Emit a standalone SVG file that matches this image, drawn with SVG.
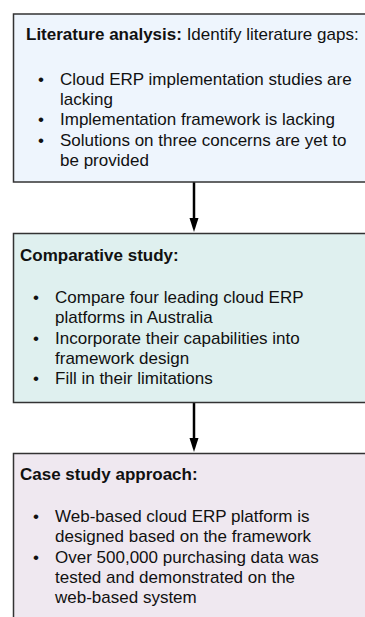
<svg xmlns="http://www.w3.org/2000/svg" width="365" height="617" viewBox="0 0 365 617">
<defs>
<style>
.box{stroke:#333;stroke-width:1.5}
.t{font-family:"Liberation Sans",Arial,sans-serif;font-size:17px;fill:#111}
.h{font-family:"Liberation Sans",Arial,sans-serif;font-size:17px;fill:#111}
.b{font-weight:bold}
.c{stroke:#000;stroke-width:2.5;fill:none}
</style>
</defs>
<rect width="365" height="617" fill="#fff"/>
<g id="connectors">
<line class="c" x1="194" y1="182" x2="194" y2="219"/>
<path d="M189.5,218 L198.5,218 L194,232 z" fill="#000"/>
<line class="c" x1="194" y1="402" x2="194" y2="439"/>
<path d="M189.5,438 L198.5,438 L194,452 z" fill="#000"/>
</g>
<g id="literature">
<rect class="box" x="13.5" y="14" width="360" height="168" fill="#eef5fd"/>
<text class="h" x="26" y="40"><tspan class="b">Literature analysis:</tspan> Identify literature gaps:</text>
<text class="t"><tspan x="38" y="85">•</tspan><tspan x="60" y="85">Cloud ERP implementation studies are</tspan><tspan x="60" y="105">lacking</tspan><tspan x="38" y="125">•</tspan><tspan x="60" y="125">Implementation framework is lacking</tspan><tspan x="38" y="146">•</tspan><tspan x="60" y="146">Solutions on three concerns are yet to</tspan><tspan x="60" y="166">be provided</tspan></text>
</g>
<g id="comparative">
<rect class="box" x="13.5" y="233.5" width="360" height="169" fill="#dff0ef"/>
<text class="h b" x="20" y="261">Comparative study:</text>
<text class="t"><tspan x="33" y="303">•</tspan><tspan x="55" y="303">Compare four leading cloud ERP</tspan><tspan x="55" y="323">platforms in Australia</tspan><tspan x="33" y="344">•</tspan><tspan x="55" y="344">Incorporate their capabilities into</tspan><tspan x="55" y="364">framework design</tspan><tspan x="33" y="384">•</tspan><tspan x="55" y="384">Fill in their limitations</tspan></text>
</g>
<g id="casestudy">
<rect class="box" x="13.5" y="453.5" width="360" height="180" fill="#efe8f0"/>
<text class="h b" x="20" y="480">Case study approach:</text>
<text class="t"><tspan x="33" y="522">•</tspan><tspan x="55" y="522">Web-based cloud ERP platform is</tspan><tspan x="55" y="542">designed based on the framework</tspan><tspan x="33" y="563">•</tspan><tspan x="55" y="563">Over 500,000 purchasing data was</tspan><tspan x="55" y="583">tested and demonstrated on the</tspan><tspan x="55" y="603">web-based system</tspan></text>
</g>
</svg>
